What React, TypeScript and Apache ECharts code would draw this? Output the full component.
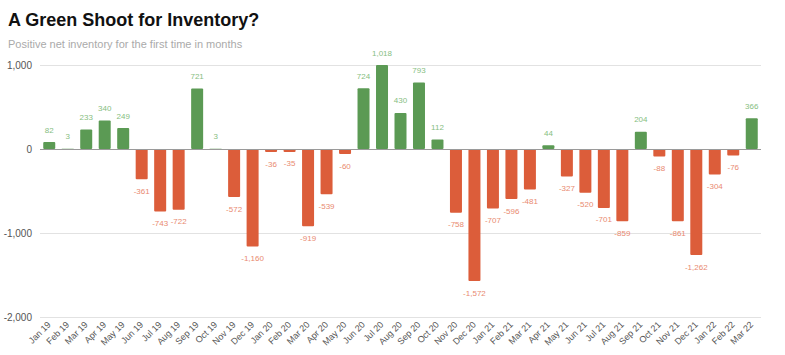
import React, { useEffect, useRef } from "react";
import * as echarts from "echarts";

const months = [
  "Jan 19","Feb 19","Mar 19","Apr 19","May 19","Jun 19","Jul 19","Aug 19","Sep 19","Oct 19","Nov 19","Dec 19",
  "Jan 20","Feb 20","Mar 20","Apr 20","May 20","Jun 20","Jul 20","Aug 20","Sep 20","Oct 20","Nov 20","Dec 20",
  "Jan 21","Feb 21","Mar 21","Apr 21","May 21","Jun 21","Jul 21","Aug 21","Sep 21","Oct 21","Nov 21","Dec 21",
  "Jan 22","Feb 22","Mar 22",
];
const netInventory = [
  82, 3, 233, 340, 249, -361, -743, -722, 721, 3, -572, -1160,
  -36, -35, -919, -539, -60, 724, 1018, 430, 793, 112, -758, -1572,
  -707, -596, -481, 44, -327, -520, -701, -859, 204, -88, -861, -1262,
  -304, -76, 366,
];
const yTicks = { min: -2000, max: 1000, interval: 1000 };

const GREEN = "#5b9a54";
const RED = "#dc5d3a";
const GREEN_LABEL = "#86be7f";
const RED_LABEL = "#e98a70";
const FONT = "'Liberation Sans', Arial, Helvetica, sans-serif";

export default function App() {
  const ref = useRef<HTMLDivElement>(null);
  useEffect(() => {
    if (!ref.current) return;
    const chart = echarts.init(ref.current, null, { renderer: "svg" });
    const fmt = (v: number) => v.toLocaleString("en-US");
    chart.setOption({
      animation: false,
      title: {
        text: "A Green Shoot for Inventory?",
        subtext: "Positive net inventory for the first time in months",
        left: 8,
        top: 11,
        padding: 0,
        itemGap: 9,
        textStyle: { fontFamily: FONT, fontSize: 18, fontWeight: "bold", color: "#111" },
        subtextStyle: { fontFamily: FONT, fontSize: 11, color: "#aaaaaa" },
      },
      grid: { left: 40, right: 24, top: 65, bottom: 38 },
      xAxis: {
        type: "category",
        data: months,
        axisLine: { show: false, onZero: false },
        axisTick: { show: false },
        axisLabel: {
          rotate: 45,
          interval: 0,
          fontSize: 9,
          color: "#555",
          fontFamily: FONT,
          margin: 6,
        },
      },
      yAxis: {
        type: "value",
        min: yTicks.min,
        max: yTicks.max,
        interval: yTicks.interval,
        axisLabel: {
          fontSize: 10,
          color: "#555",
          fontFamily: FONT,
          formatter: (v: number) => fmt(v),
        },
        splitLine: { lineStyle: { color: "#e2e2e2" } },
        axisLine: { show: false },
        axisTick: { show: false },
      },
      series: [
        {
          type: "bar",
          barWidth: 12,
          data: netInventory.map((v) => ({
            value: v,
            itemStyle: { color: v >= 0 ? GREEN : RED, borderRadius: 1 },
            label: {
              show: true,
              position: v >= 0 ? "top" : "bottom",
              color: v >= 0 ? GREEN_LABEL : RED_LABEL,
              fontSize: 8,
              distance: 8,
              fontFamily: FONT,
              formatter: () => fmt(v),
            },
          })),
          markLine: {
            silent: true,
            symbol: "none",
            label: { show: false },
            lineStyle: { color: "#9a9a9a", type: "solid", width: 1 },
            data: [{ yAxis: 0 }],
          },
        },
      ],
    });
    return () => chart.dispose();
  }, []);
  return (
    <div
      ref={ref}
      style={{ position: "fixed", left: 0, top: 0, width: 785, height: 355, background: "#fff" }}
    />
  );
}
